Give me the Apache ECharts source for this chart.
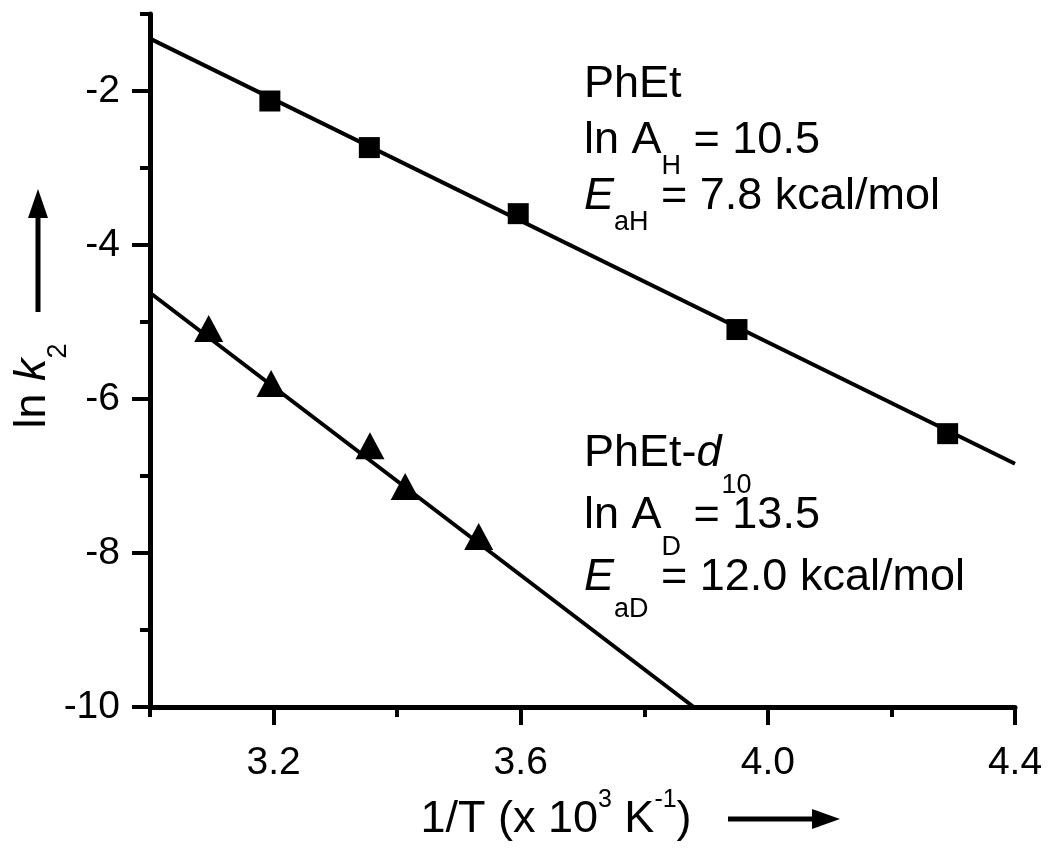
<!DOCTYPE html>
<html><head><meta charset="utf-8">
<script src="https://cdn.jsdelivr.net/npm/echarts@6/dist/echarts.min.js"></script>
<style>html,body{margin:0;padding:0;background:#fff}#c{width:1050px;height:849px}</style>
</head><body><div id="c"></div>
<script>
// ---- data ----
const xMajorTicks = [3.2, 3.6, 4.0, 4.4];
const xMinorTicks = [3.0, 3.4, 3.8, 4.2];
const yMajorTicks = [-10, -8, -6, -4, -2];
const yMinorTicks = [-9, -7, -5, -3, -1];
const phEtPoints = [[3.194, -2.13], [3.355, -2.735], [3.596, -3.593], [3.950, -5.098], [4.291, -6.45]];
const phEtD10Points = [[3.095, -5.085], [3.196, -5.80], [3.356, -6.606], [3.413, -7.135], [3.532, -7.785]];
const phEtFit = [[3.0, -1.32], [4.4, -6.84]];
const phEtD10Fit = [[3.0, -4.62], [3.88, -10]];

const FONT = '"Liberation Sans", Arial, sans-serif';
const chart = echarts.init(document.getElementById('c'));

const baseX = { type: 'value', min: 3.0, max: 4.4, interval: 0.2, position: 'bottom', splitLine: { show: false } };
const baseY = { type: 'value', min: -10, max: -1, interval: 1, position: 'left', splitLine: { show: false } };
const n = { fontFamily: FONT, fontSize: 45, color: '#000', verticalAlign: 'top' };
const s = { fontFamily: FONT, fontSize: 27, color: '#000', verticalAlign: 'bottom', padding: [0, 0, -6, 0] };
const it = Object.assign({}, n, { fontStyle: 'italic' });

chart.setOption({
  animation: false,
  backgroundColor: '#fff',
  grid: { left: 150, right: 35, top: 14, bottom: 142, containLabel: false },
  xAxis: [
    Object.assign({}, baseX, {
      axisLine: { lineStyle: { color: '#000', width: 5 } },
      axisTick: { customValues: xMajorTicks, length: 18, lineStyle: { color: '#000', width: 4 } },
      axisLabel: { customValues: xMajorTicks, formatter: v => v.toFixed(1), fontFamily: FONT, fontSize: 39, color: '#000', margin: 37 }
    }),
    Object.assign({}, baseX, {
      axisLine: { show: false },
      axisTick: { customValues: xMinorTicks, length: 10, lineStyle: { color: '#000', width: 4 } },
      axisLabel: { show: false }
    })
  ],
  yAxis: [
    Object.assign({}, baseY, {
      axisLine: { lineStyle: { color: '#000', width: 5 } },
      axisTick: { customValues: yMajorTicks, length: 18, lineStyle: { color: '#000', width: 4 } },
      axisLabel: { customValues: yMajorTicks, formatter: v => String(v), fontFamily: FONT, fontSize: 39, color: '#000', margin: 30 }
    }),
    Object.assign({}, baseY, {
      axisLine: { show: false },
      axisTick: { customValues: yMinorTicks, length: 10, lineStyle: { color: '#000', width: 4 } },
      axisLabel: { show: false }
    })
  ],
  series: [
    { type: 'line', data: phEtFit, showSymbol: false, symbol: 'none', lineStyle: { color: '#000', width: 4 }, z: 2 },
    { type: 'line', data: phEtD10Fit, showSymbol: false, symbol: 'none', lineStyle: { color: '#000', width: 4 }, z: 2 },
    { type: 'scatter', data: phEtPoints, symbol: 'rect', symbolSize: 21, itemStyle: { color: '#000', opacity: 1 }, z: 3 },
    { type: 'scatter', data: phEtD10Points, symbol: 'triangle', symbolSize: [29, 27], itemStyle: { color: '#000', opacity: 1 }, z: 3 }
  ],
  graphic: [
    { type: 'text', left: 584, top: 62, style: {
        text: '{n|PhEt}\n{n|ln A}{s|H}{n| = 10.5}\n{i|E}{s|aH}{n| = 7.8 kcal/mol}',
        rich: { n: n, s: s, i: it }, lineHeight: 56 } },
    { type: 'text', left: 584, top: 431, style: {
        text: '{n|PhEt-}{i|d}{s|10}\n{n|ln A}{s|D}{n| = 13.5}\n{i|E}{s|aD}{n| = 12.0 kcal/mol}',
        rich: { n: n, s: s, i: it }, lineHeight: 62 } },
    { type: 'text', x: 38, y: 386, rotation: Math.PI / 2, style: {
        text: '{n|ln }{i|k}{s|2}', align: 'center', verticalAlign: 'middle',
        rich: { n: { fontFamily: FONT, fontSize: 45, color: '#000', verticalAlign: 'top' }, i: { fontFamily: FONT, fontSize: 45, fontStyle: 'italic', color: '#000', verticalAlign: 'top' }, s: s }, lineHeight: 56 } },
    { type: 'polyline', shape: { points: [[38, 312], [38, 214]] }, style: { stroke: '#000', lineWidth: 5 } },
    { type: 'polygon', shape: { points: [[38, 189], [28, 218], [48, 218]] }, style: { fill: '#000' } },
    { type: 'text', x: 556, y: 815, style: {
        text: '{n|1/T (x 10}{p|3}{n| K}{p|-1}{n|)}', align: 'center', verticalAlign: 'middle',
        rich: { n: { fontFamily: FONT, fontSize: 45, color: '#000', verticalAlign: 'bottom' }, p: { fontFamily: FONT, fontSize: 25, color: '#000', verticalAlign: 'top' } }, lineHeight: 54 } },
    { type: 'polyline', shape: { points: [[728, 819], [815, 819]] }, style: { stroke: '#000', lineWidth: 5 } },
    { type: 'polygon', shape: { points: [[840, 819], [812, 809], [812, 829]] }, style: { fill: '#000' } }
  ]
});
</script></body></html>
